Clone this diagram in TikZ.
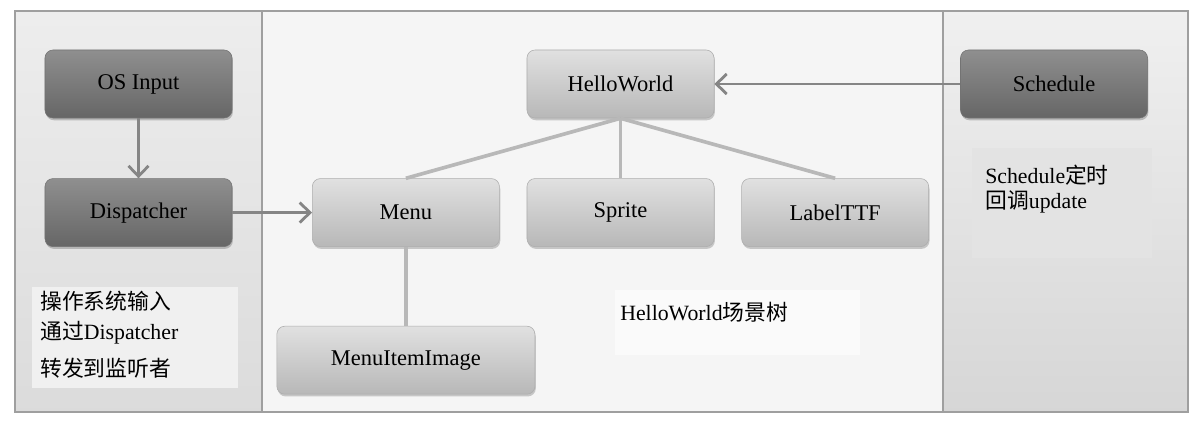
\documentclass[tikz,border=0pt]{standalone}
\usepackage{fontspec}
\setmainfont{Liberation Serif}
\newfontfamily\cjk{Noto Sans CJK SC}
\usetikzlibrary{positioning, shadows, arrows.meta}

\begin{document}
\begin{tikzpicture}[
    x=0.025cm, y=-0.025cm,
    node distance=1.5cm and 0.675cm,
    panel/.style={draw=gray!75, line width=0.8pt},
    darkbox/.style={rectangle, rounded corners=0.2cm, draw=black!55, top color=black!44, bottom color=black!60, minimum width=4.675cm, minimum height=1.7cm, font=\fontsize{16}{19}\selectfont, drop shadow={shadow xshift=0.6pt, shadow yshift=-1.6pt, opacity=0.45}},
    lightbox/.style={rectangle, rounded corners=0.2cm, draw=black!32, top color=black!12, bottom color=black!28, minimum width=4.675cm, minimum height=1.7cm, font=\fontsize{16}{19}\selectfont, drop shadow={shadow xshift=0.6pt, shadow yshift=-1.6pt, opacity=0.4}},
    note/.style={anchor=west, inner sep=0pt, font=\fontsize{15.5}{18}\selectfont},
    arrow/.style={-{Straight Barb[length=2.6mm, width=5mm]}, line width=2pt, draw=black!48},
    branch/.style={line width=2.6pt, draw=black!28}
]
    \useasboundingbox (0,0) rectangle (1200,426);

    % Panels
    \draw[panel, top color=black!7, bottom color=black!14] (15,11) rectangle (262,412);
    \draw[panel, fill=black!4] (262,11) rectangle (943,412);
    \draw[panel, top color=black!6, bottom color=black!16] (943,11) rectangle (1188,412);

    % Note backgrounds
    \fill[black!6] (32,287) rectangle (238,388);
    \fill[black!11] (972,148) rectangle (1152,258);
    \fill[black!2] (615,290) rectangle (860,355);

    % Input side
    \node[darkbox] (osinput) at (138.5,84) {OS Input};
    \node[darkbox, below=of osinput] (dispatcher) {Dispatcher};

    % Scene tree
    \node[lightbox] (helloworld) at (620.5,84) {HelloWorld};
    \node[lightbox, below=of helloworld] (sprite) {Sprite};
    \node[lightbox, left=of sprite] (menu) {Menu};
    \node[lightbox, right=of sprite] (labelttf) {LabelTTF};
    \node[lightbox, minimum width=6.45cm, below=1.975cm of menu] (menuitem) {MenuItemImage};

    % Timer side
    \node[darkbox] (schedule) at (1054,84) {Schedule};

    % Tree branches
    \draw[branch] (helloworld.south) -- (menu.north);
    \draw[branch] (helloworld.south) -- (sprite.north);
    \draw[branch] (helloworld.south) -- (labelttf.north);
    \draw[branch] (menu.south) -- (menuitem.north);

    % Arrows
    \draw[arrow] (osinput) -- (dispatcher);
    \draw[arrow] (dispatcher) -- (menu);
    \draw[arrow] (schedule) -- (helloworld);

    % Notes
    \node[note] (inputnote1) at (40,301) {\cjk 操作系统输入};
    \node[note] (inputnote2) at (40,333) {{\cjk 通过}Dispatcher};
    \node[note] (inputnote3) at (40,368) {\cjk 转发到监听者};
    \node[note] (treenote) at (620,312) {HelloWorld{\cjk 场景树}};
    \node[note] (schednote1) at (985,175) {Schedule{\cjk 定时}};
    \node[note] (schednote2) at (985,202) {{\cjk 回调}update};
\end{tikzpicture}
\end{document}
